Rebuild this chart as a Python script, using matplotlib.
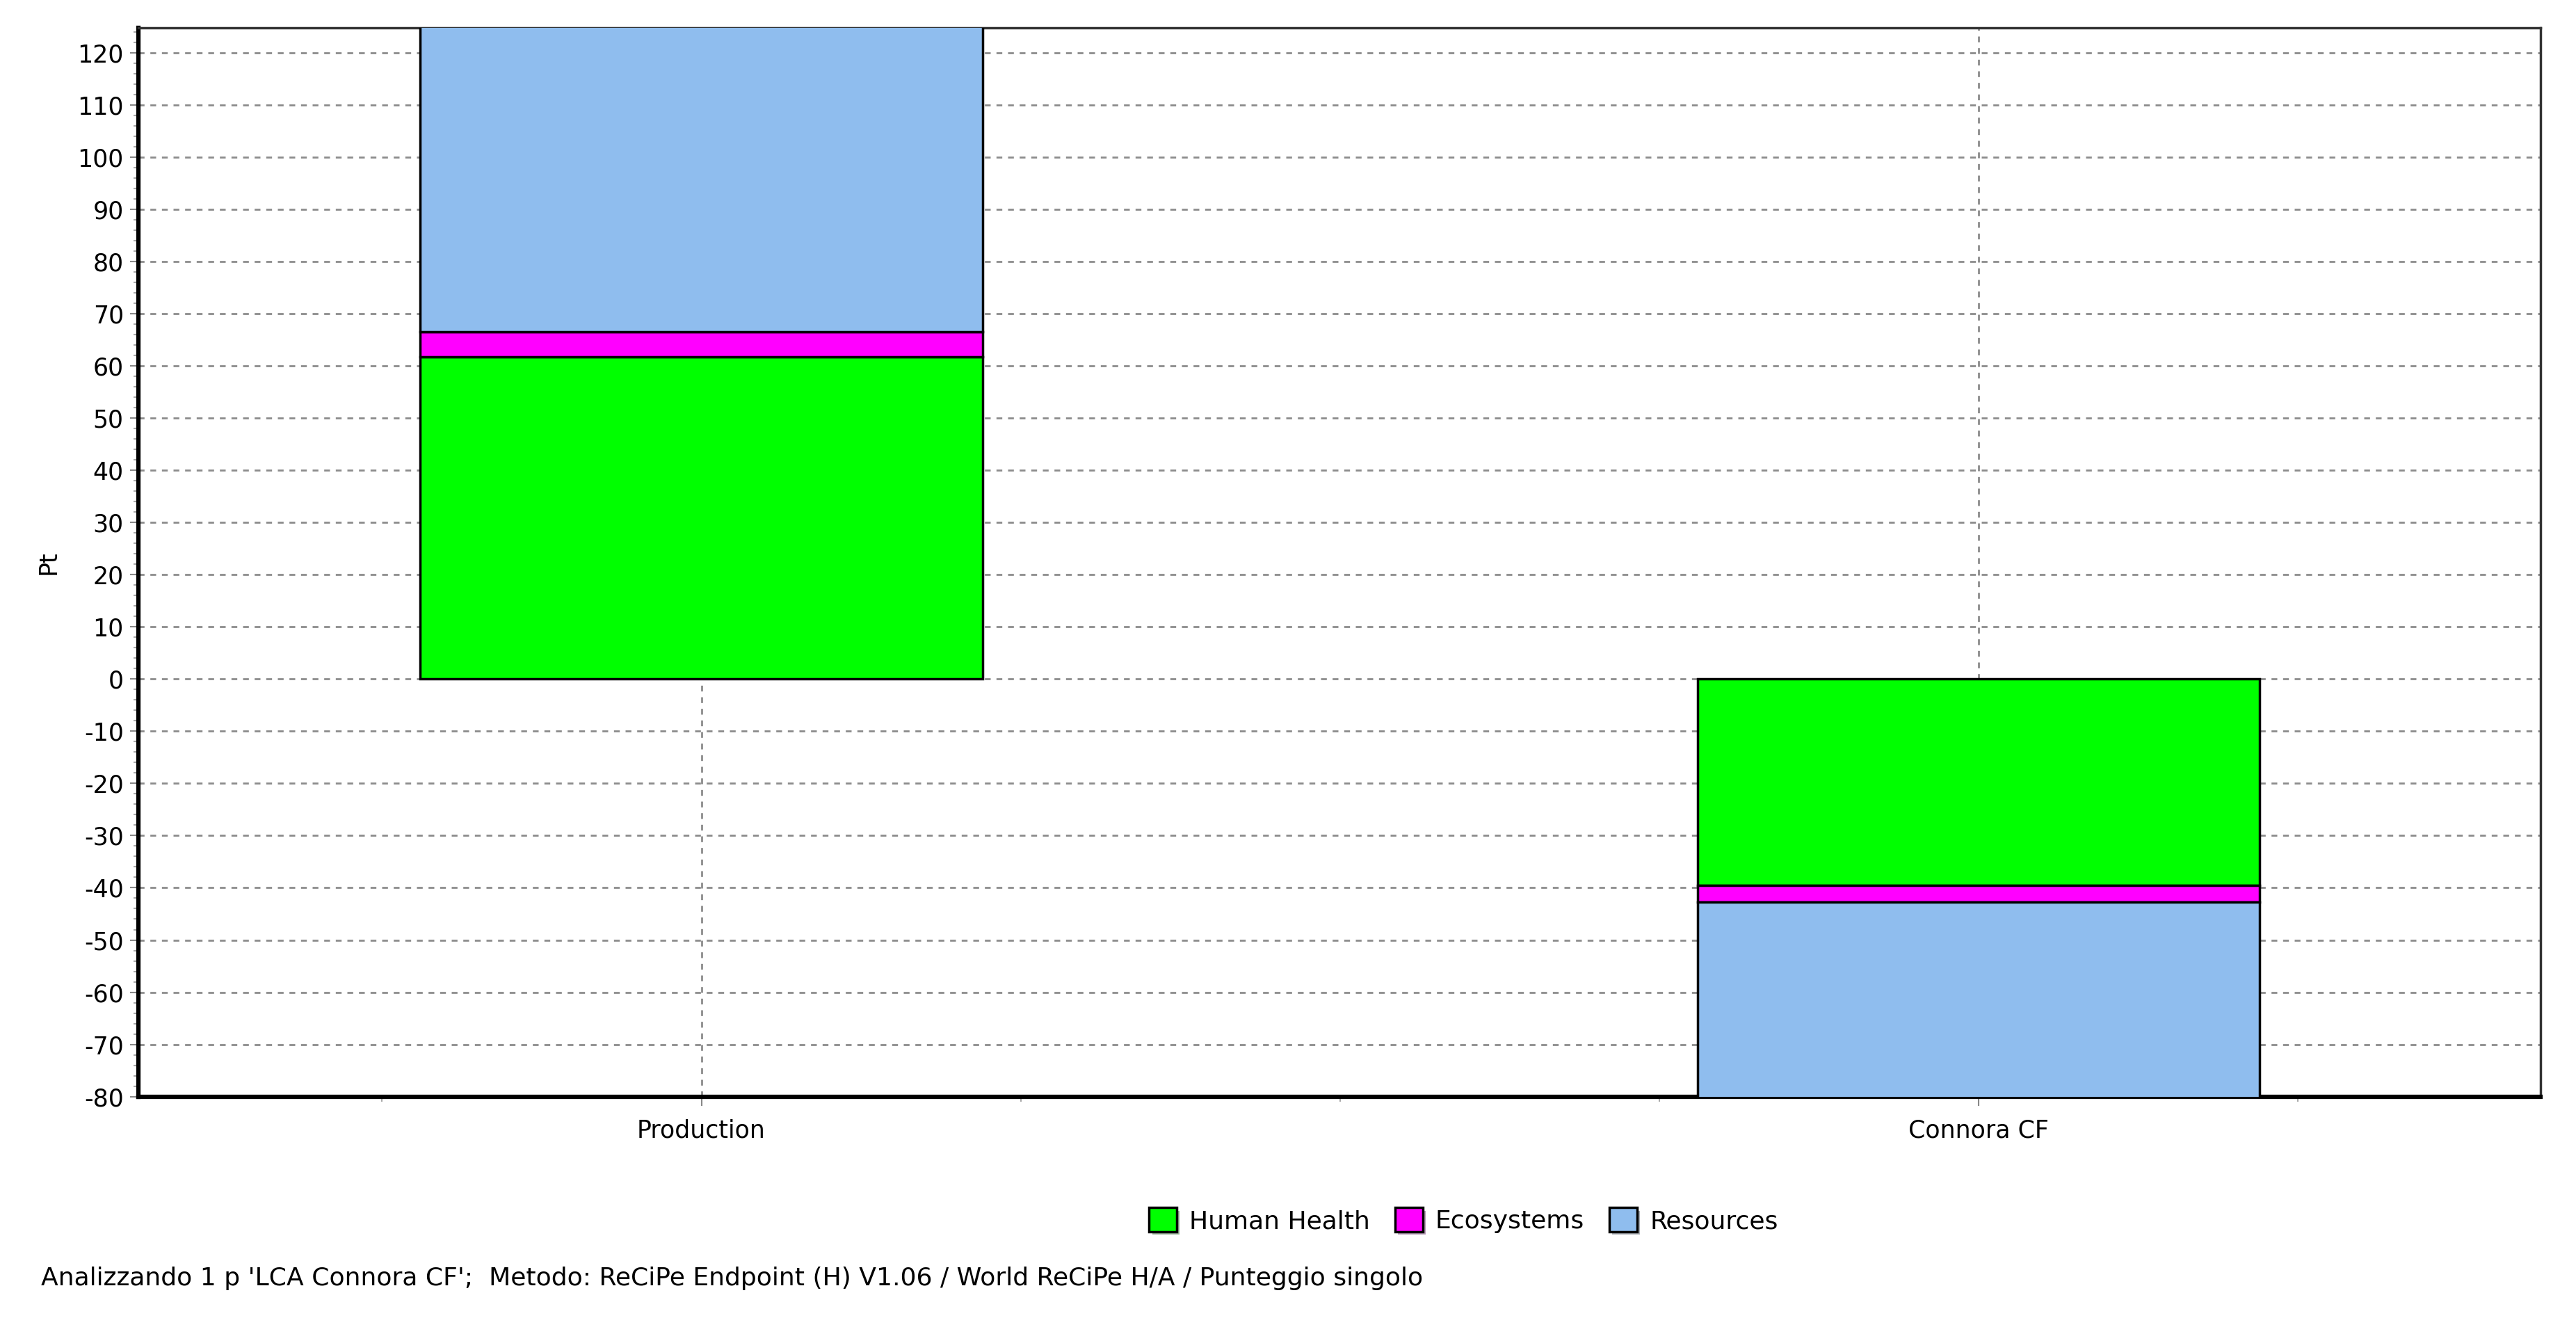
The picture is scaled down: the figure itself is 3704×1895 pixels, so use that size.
import matplotlib.pyplot as plt
import numpy as np
from matplotlib.ticker import MultipleLocator, FixedLocator
import matplotlib.patheffects as pe

# data (Pt)
categories = ["Production", "Connora CF"]
human_health = [61.8, -39.5]
ecosystems = [4.8, -3.3]
resources = [60.0, -40.0]   # both clipped by the axis limits

series_names = ["Human Health", "Ecosystems", "Resources"]
colors = ["#00ff00", "#ff00ff", "#8fbdee"]

plt.rcParams['font.family'] = ['DejaVu Sans']
plt.rcParams['axes.unicode_minus'] = False

fig = plt.figure(figsize=(37.05, 18.95), dpi=100)
ax = fig.add_axes([0.0536, 0.168, 0.986 - 0.0536, 0.979 - 0.168])

x = np.arange(len(categories))
width = 0.44
bottom = np.zeros(len(categories))
for vals, name, col in zip([human_health, ecosystems, resources], series_names, colors):
    vals = np.array(vals)
    ax.bar(x, vals, width, bottom=bottom, color=col, edgecolor="black",
           linewidth=2.5, label=name, zorder=3)
    bottom = bottom + vals

ax.set_xlim(-0.441, 1.44)
ax.set_ylim(-80, 124.8)

ax.yaxis.set_major_locator(MultipleLocator(10))
ax.yaxis.set_minor_locator(MultipleLocator(2))
ax.set_xticks(x)
ax.set_xticklabels(categories)
ax.xaxis.set_minor_locator(FixedLocator([-0.25, 0.25, 0.5, 0.75, 1.25]))

ax.tick_params(axis="both", which="major", labelsize=25, colors="#888888",
               labelcolor="black", length=9, width=1.5)
ax.tick_params(axis="both", which="minor", colors="#aaaaaa", length=5, width=1.5)
ax.tick_params(axis="x", which="major", pad=14)
ax.tick_params(axis="y", which="major", pad=6)

ax.grid(True, axis="both", which="major", linestyle=(0, (3, 3)),
        color="#8c8c8c", linewidth=2, zorder=0)
ax.set_axisbelow(True)

for s in ["left", "bottom"]:
    ax.spines[s].set_linewidth(4.5)
    ax.spines[s].set_color("black")
for s in ["top", "right"]:
    ax.spines[s].set_linewidth(2.5)
    ax.spines[s].set_color("#333333")

ax.set_ylabel("Pt", fontsize=25, labelpad=18)

leg = fig.legend(loc="center", bbox_to_anchor=(0.568, 0.074), ncol=3,
                 frameon=False, fontsize=26, handlelength=1.1, handleheight=1.1,
                 handletextpad=0.5, columnspacing=1.0)
for h in leg.legend_handles:
    h.set_edgecolor("black")
    h.set_linewidth(2.5)
    h.set_path_effects([pe.SimplePatchShadow(offset=(3, -3), alpha=0.4), pe.Normal()])

fig.text(0.016, 0.03,
         "Analizzando 1 p 'LCA Connora CF';  Metodo: ReCiPe Endpoint (H) V1.06 / World ReCiPe H/A / Punteggio singolo",
         fontsize=26, ha="left", va="center")

fig.savefig("out.png", dpi=100)
